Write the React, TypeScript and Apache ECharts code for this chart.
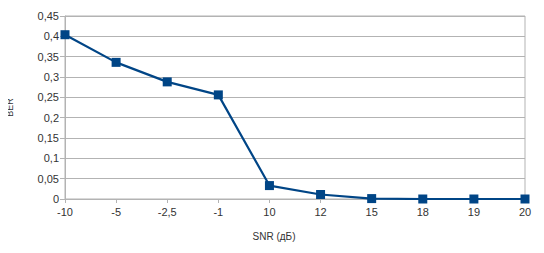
import React, { useEffect, useRef } from "react";
import * as echarts from "echarts";

const categories = ["-10", "-5", "-2,5", "-1", "10", "12", "15", "18", "19", "20"];
const berValues = [0.404, 0.336, 0.288, 0.256, 0.033, 0.011, 0.001, 0, 0, 0];
const yTicks = { min: 0, max: 0.45, interval: 0.05 };
const yAxisTitle = "BER";
const xAxisTitle = "SNR (дБ)";

export default function App() {
  const ref = useRef<HTMLDivElement>(null);
  useEffect(() => {
    if (!ref.current) return;
    const chart = echarts.init(ref.current, undefined, { renderer: "svg" });
    const font = "'Liberation Sans', Arial, sans-serif";
    chart.setOption({
      animation: false,
      backgroundColor: "#ffffff",
      grid: {
        left: 65,
        right: 19,
        top: 16,
        bottom: 54,
        show: true,
        borderColor: "#b3b3b3",
        borderWidth: 1,
        outerBoundsMode: "none",
        containLabel: false,
      },
      graphic: [
        {
          type: "text",
          x: 10,
          y: 107.5,
          rotation: Math.PI / 2,
          style: {
            text: yAxisTitle,
            fontFamily: font,
            fontSize: 9,
            fill: "#333333",
            align: "center",
            verticalAlign: "middle",
          },
        },
      ],
      xAxis: {
        type: "category",
        data: categories,
        boundaryGap: false,
        name: xAxisTitle,
        nameLocation: "middle",
        nameGap: 32,
        nameTextStyle: { fontFamily: font, fontSize: 10, color: "#333333", padding: [0, 42, 0, 0] },
        axisLine: { lineStyle: { color: "#b3b3b3" } },
        axisTick: { show: true, length: 4, alignWithLabel: true, lineStyle: { color: "#b3b3b3" } },
        axisLabel: { fontFamily: font, fontSize: 11, color: "#333333", margin: 7 },
        splitLine: { show: false },
      },
      yAxis: {
        type: "value",
        min: yTicks.min,
        max: yTicks.max,
        interval: yTicks.interval,
        axisLine: { show: true, lineStyle: { color: "#b3b3b3" } },
        axisTick: { show: true, length: 5, lineStyle: { color: "#b3b3b3" } },
        axisLabel: {
          fontFamily: font,
          fontSize: 11,
          color: "#333333",
          margin: 6,
          formatter: (v: number) => (Math.round(v * 100) / 100).toString().replace(".", ","),
        },
        splitLine: { show: true, lineStyle: { color: "#b3b3b3" } },
      },
      series: [
        {
          type: "line",
          data: berValues,
          symbol: "rect",
          symbolSize: 9,
          lineStyle: { color: "#004586", width: 2.2 },
          itemStyle: { color: "#004586" },
          showAllSymbol: true,
        },
      ],
    });
    return () => chart.dispose();
  }, []);
  return <div ref={ref} style={{ width: 544, height: 253, margin: -8 }} />;
}
